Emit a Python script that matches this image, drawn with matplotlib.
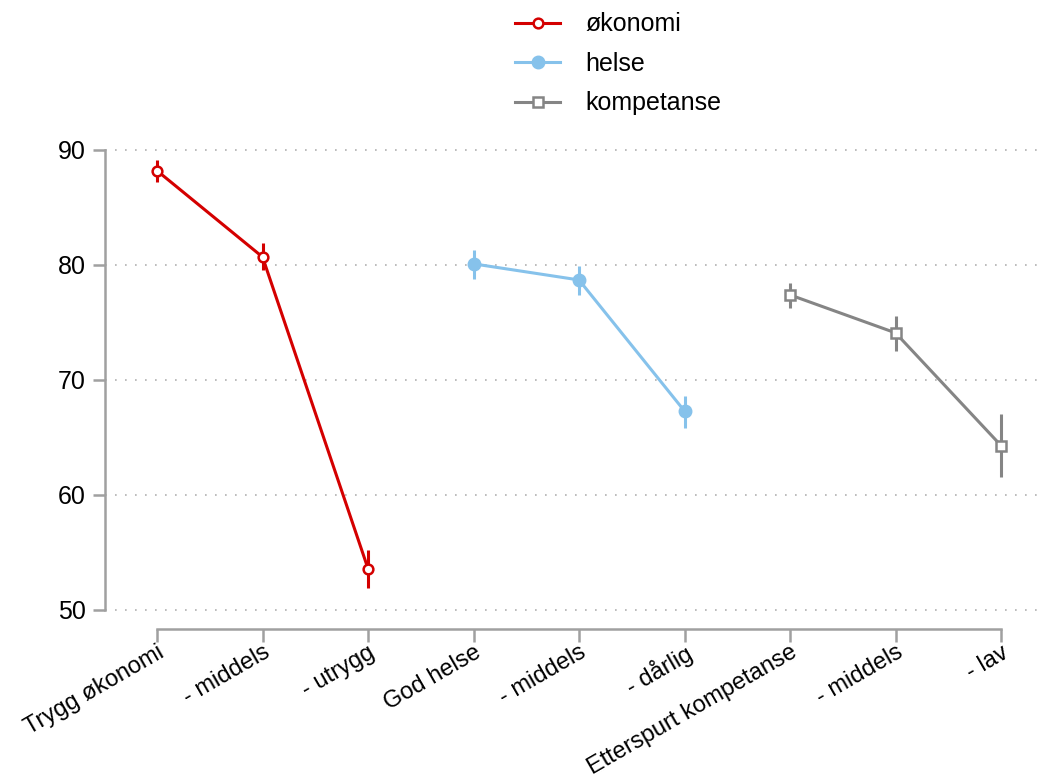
import matplotlib
matplotlib.use("Agg")
import matplotlib.pyplot as plt
import numpy as np

plt.rcParams['font.family'] = ['Liberation Sans', 'DejaVu Sans']

categories = ["Trygg økonomi", "- middels", "- utrygg",
              "God helse", "- middels", "- dårlig",
              "Etterspurt kompetanse", "- middels", "- lav"]

oko_x = [0, 1, 2]
oko_y = [88.2, 80.7, 53.6]
oko_lo = [87.2, 79.6, 51.9]
oko_hi = [89.1, 81.9, 55.2]

hel_x = [3, 4, 5]
hel_y = [80.1, 78.7, 67.3]
hel_lo = [78.8, 77.4, 65.8]
hel_hi = [81.3, 79.9, 68.6]

komp_x = [6, 7, 8]
komp_y = [77.4, 74.1, 64.3]
komp_lo = [76.3, 72.5, 61.6]
komp_hi = [78.4, 75.6, 67.0]

yticks = [50, 60, 70, 80, 90]

fig = plt.figure(figsize=(10.48, 7.79), dpi=100)
ax = fig.add_axes([105/1048, 1-633/779, 940/1048, 506/779])

gray_axis = '#a0a0a0'
series = [
    ("økonomi", oko_x, oko_y, oko_lo, oko_hi, '#d40000', 'o', 'none'),
    ("helse", hel_x, hel_y, hel_lo, hel_hi, '#86c2eb', 'o', 'full'),
    ("kompetanse", komp_x, komp_y, komp_lo, komp_hi, '#858585', 's', 'none'),
]

handles = []
for name, xs, ys, lo, hi, col, mk, fill in series:
    ax.vlines(xs, lo, hi, color=col, lw=2.2, zorder=3)
    if fill == 'none':
        h, = ax.plot(xs, ys, color=col, lw=2.2, marker=mk, markersize=7,
                     markerfacecolor='white', markeredgecolor=col,
                     markeredgewidth=1.8, zorder=4, label=name, clip_on=False)
    else:
        h, = ax.plot(xs, ys, color=col, lw=2.2, marker=mk, markersize=9,
                     markerfacecolor=col, markeredgecolor=col,
                     zorder=4, label=name, clip_on=False)
    handles.append(h)

ax.set_xlim(-0.493, 8.417)
ax.set_ylim(48, 92)

for y in yticks:
    ax.axhline(y, color='#b0b0b0', lw=1.2, ls=(0, (1, 5)), zorder=1)

for s in ['top', 'right']:
    ax.spines[s].set_visible(False)
ax.spines['left'].set_bounds(50, 90)
ax.spines['left'].set_color(gray_axis)
ax.spines['left'].set_linewidth(1.8)
ax.spines['bottom'].set_bounds(0, 8)
ax.spines['bottom'].set_position(('data', 48.35))
ax.spines['bottom'].set_color(gray_axis)
ax.spines['bottom'].set_linewidth(1.8)

ax.set_yticks(yticks)
ax.set_yticklabels([str(v) for v in yticks], fontsize=18)
ax.set_xticks(range(len(categories)))
ax.set_xticklabels(categories, fontsize=17, rotation=30, ha='right',
                   rotation_mode='anchor')
ax.tick_params(axis='both', color=gray_axis, width=1.8, length=9, pad=5)
ax.tick_params(axis='x', pad=0)

fig.legend(handles=handles, loc='upper center', bbox_to_anchor=(0.59, 1.013),
           frameon=False, fontsize=18, handlelength=1.8, labelspacing=0.62,
           handletextpad=1.0)

fig.savefig("out.png", dpi=100, facecolor='white')
